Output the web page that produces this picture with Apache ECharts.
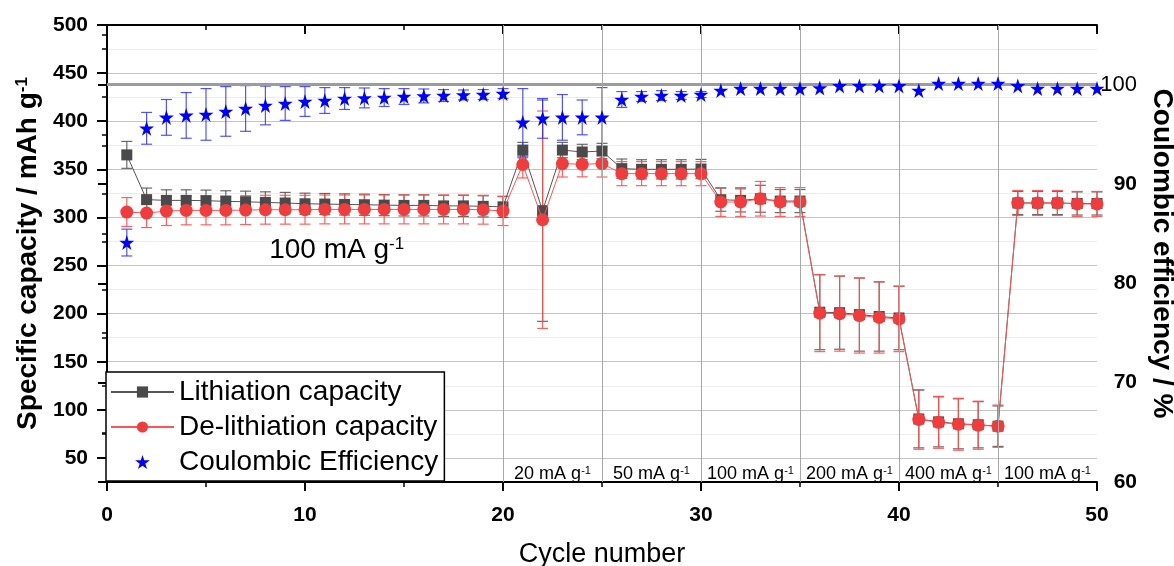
<!DOCTYPE html>
<html><head><meta charset="utf-8">
<script src="https://cdn.jsdelivr.net/npm/echarts@6/dist/echarts.min.js"></script>
<style>html,body{margin:0;padding:0;background:#fff}#c{width:1174px;height:566px}</style>
</head><body><div id="c"></div>
<script>
const cycles = [1,2,3,4,5,6,7,8,9,10,11,12,13,14,15,16,17,18,19,20,21,22,23,24,25,26,27,28,29,30,31,32,33,34,35,36,37,38,39,40,41,42,43,44,45,46,47,48,49,50];
const lithiation = [365,318.5,317.7,317.7,317.4,316.7,316.3,315.6,315,314.2,313.9,313.5,313.2,312.8,312.5,312.5,312,312,311.5,311,370,307,370,368,369,350.7,350,350,350,350.3,318.4,317.7,319.4,317,317,201.5,201,199,197,195.5,90.5,87.5,85.5,84.5,83,315,315,315,314.5,314.5];
const lithiationErr = [14,12,11,11,11,11,11,11,11,11,11,11,11,11,11,11,11,11,11,11,8,115,8,8,8,10,10,10,10,10,12,12,14,12,12,39,38,38,36,33,30,26,26,24,21,12,12,12,12,12];
const delithiation = [305.6,304.5,306.6,307.3,307.3,307.3,307.6,308,308,308,308.3,308.3,308.3,308.3,308.3,308.3,308.3,308.3,308,306.6,355,297.6,356,355.2,356,345.5,345.5,345.5,345.5,345.5,316,316,319.4,316,316,200.5,200,198,196,194.5,90,87,85,84,83,315,315,315,314,314];
const delithiationErr = [15,15,15,15,15,15,15,15,15,15,15,15,15,15,15,15,15,15,15,15,14,113,14,13,14,12.5,12.5,12.5,12.5,12.5,15,15,18,15,15,40,39,39,37,34,31,27,27,25,22,13,13,13,13,13];
const coulombicEff = [84.1,95.6,96.7,96.9,97.0,97.3,97.6,97.9,98.1,98.3,98.4,98.6,98.66,98.7,98.8,98.86,98.9,98.96,99.0,99.1,96.2,96.6,96.7,96.7,96.7,98.5,98.8,98.9,98.9,99.0,99.4,99.6,99.6,99.6,99.6,99.66,99.87,99.87,99.87,99.87,99.4,100.1,100.1,100.1,100.1,99.87,99.6,99.6,99.6,99.6];
const coulombicErr = [1.35,1.6,1.8,2.3,2.6,2.5,2.3,1.95,1.7,1.5,1.3,1.1,1.0,0.9,0.8,0.7,0.6,0.5,0.5,0.5,3.4,2,2.3,1.75,3,0.8,0.5,0.5,0.4,0.3,0,0,0,0,0,0,0,0,0,0,0,0,0,0,0,0,0,0,0,0];
const leftTickLabels = [50,100,150,200,250,300,350,400,450,500];
const rightTickLabels = [60,70,80,90,100];
const xTickLabels = [0,10,20,30,40,50];
const rateBoundaries = [20,25,30,35,40,45];
const rateLabels = ['20','50','100','200','400','100'];
const rateLabelCycles = [22.5,27.5,32.5,37.5,42.5,47.5];
const rateLabelLevel = 33;
const mainRateLabel = '100';
const mainRateCycle = 11.6;
const mainRateLevel = 266;
const ceReference = 100;

const FF = '"Liberation Sans", Arial, sans-serif';
const chart = echarts.init(document.getElementById('c'), null, {renderer:'canvas'});
const STAR = 'path://M50,0L61.2,34.5L97.6,34.5L68.2,55.9L79.4,90.5L50,69.1L20.6,90.5L31.8,55.9L2.4,34.5L38.8,34.5Z';

function errSeries(name, yIdx, vals, errs, color, z) {
  return {
    type:'custom', name:name, yAxisIndex:yIdx, xAxisIndex:0, z:z, silent:true, animation:false,
    data: cycles.map((c,i)=>[c, vals[i]-errs[i], vals[i]+errs[i], errs[i]]),
    encode:{x:0, y:[1,2]},
    renderItem(params, api){
      if (api.value(3) <= 0) return null;
      const lo = api.coord([api.value(0), api.value(1)]);
      const hi = api.coord([api.value(0), api.value(2)]);
      const hw = 5.5;
      const st = {stroke:color, lineWidth:1.2};
      return {type:'group', children:[
        {type:'line', shape:{x1:hi[0],y1:hi[1],x2:lo[0],y2:lo[1]}, style:st},
        {type:'line', shape:{x1:hi[0]-hw,y1:hi[1],x2:hi[0]+hw,y2:hi[1]}, style:st},
        {type:'line', shape:{x1:lo[0]-hw,y1:lo[1],x2:lo[0]+hw,y2:lo[1]}, style:st}
      ]};
    }
  };
}

const option = {
  animation:false,
  textStyle:{fontFamily:FF},
  grid:{left:107, right:77, top:25, bottom:84, containLabel:false, outerBoundsMode:'none'},
  legend:{
    orient:'vertical', left:106, top:372, itemWidth:63, itemHeight:14, itemGap:7,
    padding:[6,6,5,4], borderColor:'#000', borderWidth:1.5, backgroundColor:'#fff',
    textStyle:{fontSize:28, fontFamily:FF, color:'#000'}, z:20,
    data:['Lithiation capacity','De-lithiation capacity','Coulombic Efficiency']
  },
  xAxis:[
    {type:'value', position:'bottom', min:0, max:50, interval:10,
     name:'Cycle number', nameLocation:'middle', nameGap:59,
     nameTextStyle:{fontSize:27, color:'#000', fontFamily:FF},
     axisLine:{lineStyle:{color:'#000', width:2}},
     axisTick:{length:9, lineStyle:{color:'#000', width:2}},
     minorTick:{show:true, splitNumber:2, length:5, lineStyle:{color:'#000', width:1.5}},
     axisLabel:{fontSize:21, fontWeight:'bold', color:'#000', margin:23,
       formatter:v=> xTickLabels.indexOf(v)>=0 ? String(v) : ''},
     splitLine:{show:false}},
    {type:'value', position:'top', min:0, max:50, interval:10,
     axisLine:{lineStyle:{color:'#000', width:2}},
     axisTick:{inside:true, length:9, lineStyle:{color:'#000', width:2}},
     minorTick:{show:true, splitNumber:2, length:5, lineStyle:{color:'#000', width:1.5}},
     axisLabel:{show:false}, splitLine:{show:false}}
  ],
  yAxis:[
    {type:'value', position:'left', min:25, max:500, interval:25,
     name:'{a|Specific capacity / mAh g}{s|-1}', nameLocation:'middle', nameGap:62, nameRotate:90,
     nameTextStyle:{color:'#000', rich:{a:{fontSize:28, fontWeight:'bold', fontFamily:FF, color:'#000'}, s:{fontSize:17, fontWeight:'bold', fontFamily:FF, color:'#000', verticalAlign:'top'}}},
     axisLine:{show:true, lineStyle:{color:'#000', width:2}},
     axisTick:{length:5, lineStyle:{color:'#000', width:1.5}},
     axisLabel:{fontSize:21, fontWeight:'bold', color:'#000', margin:19,
       formatter:v=> leftTickLabels.indexOf(v)>=0 ? String(v) : ''},
     splitLine:{show:true, lineStyle:{color:['#ececec','#c4c4c4'], width:1}}},
    {type:'value', position:'right', min:60, max:106, interval:10,
     name:'Coulombic efficiency / %', nameLocation:'middle', nameGap:46, nameRotate:-90,
     nameTextStyle:{fontSize:28, fontWeight:'bold', color:'#000', fontFamily:FF},
     axisLine:{show:true, lineStyle:{color:'#000', width:2}},
     axisTick:{inside:true, length:9, lineStyle:{color:'#000', width:2}},
     minorTick:{show:true, splitNumber:2, length:5, lineStyle:{color:'#000', width:1.5}},
     axisLabel:{margin:40, align:'right', color:'#000',
       formatter:v=> rightTickLabels.indexOf(v)<0 ? '' : (v===100 ? '{r|'+v+'}' : '{b|'+v+'}'),
       rich:{r:{fontSize:22, fontFamily:FF, color:'#000'}, b:{fontSize:21, fontWeight:'bold', fontFamily:FF, color:'#000'}}},
     splitLine:{show:false}},
    {type:'value', position:'left', min:25, max:500,
     axisLine:{show:false},
     axisTick:{show:true, length:10, customValues:leftTickLabels, lineStyle:{color:'#000', width:2}},
     axisLabel:{show:false}, splitLine:{show:false}}
  ],
  series:[
    {type:'line', name:'ref', yAxisIndex:1, data:[], z:1, silent:true,
     markLine:{silent:true, symbol:'none', label:{show:false}, animation:false,
       data:[{yAxis:ceReference, lineStyle:{color:'#9c9c9c', width:3, type:'solid'}}]}},
    {type:'line', name:'bounds', yAxisIndex:0, data:[], z:1, silent:true,
     markLine:{silent:true, symbol:'none', label:{show:false}, animation:false,
       lineStyle:{color:'#a8a8a8', width:1, type:'solid'},
       data:rateBoundaries.map(b=>({xAxis:b}))}},
    errSeries('lithErr',0,lithiation,lithiationErr,'rgba(80,80,80,0.85)',2),
    errSeries('delithErr',0,delithiation,delithiationErr,'rgba(255,80,80,0.9)',2),
    errSeries('ceErr',1,coulombicEff,coulombicErr,'rgba(40,40,255,0.8)',2),
    {type:'line', name:'Lithiation capacity', yAxisIndex:0, z:3,
     data:cycles.map((c,i)=>[c,lithiation[i]]),
     symbol:'rect', symbolSize:11, showAllSymbol:true,
     itemStyle:{color:'#4a4a4a'}, lineStyle:{color:'#555', width:1}},
    {type:'line', name:'De-lithiation capacity', yAxisIndex:0, z:4,
     data:cycles.map((c,i)=>[c,delithiation[i]]),
     symbol:'circle', symbolSize:13, showAllSymbol:true,
     itemStyle:{color:'#f03c3c'}, lineStyle:{color:'#ff5555', width:1}},
    {type:'scatter', name:'Coulombic Efficiency', yAxisIndex:1, z:5,
     data:cycles.map((c,i)=>[c,coulombicEff[i]]),
     symbol:STAR, symbolSize:15, itemStyle:{color:'#0000ff', opacity:1}},
    {type:'scatter', name:'rateText', yAxisIndex:0, z:6, silent:true, symbolSize:0,
     itemStyle:{opacity:1},
     data:rateLabelCycles.map((c,i)=>({value:[c,rateLabelLevel], label:{formatter:'{a|'+rateLabels[i]+' mA g}{s|-1}'}})),
     label:{show:true, position:'inside', color:'#000', opacity:1,
       rich:{a:{fontSize:18, fontFamily:FF, color:'#000'}, s:{fontSize:11, fontFamily:FF, color:'#000', verticalAlign:'top'}}}},
    {type:'scatter', name:'mainText', yAxisIndex:0, z:6, silent:true, symbolSize:0,
     itemStyle:{opacity:1},
     data:[{value:[mainRateCycle, mainRateLevel], label:{formatter:'{a|'+mainRateLabel+' mA g}{s|-1}'}}],
     label:{show:true, position:'inside', color:'#000', opacity:1,
       rich:{a:{fontSize:28, fontFamily:FF, color:'#000'}, s:{fontSize:17, fontFamily:FF, color:'#000', verticalAlign:'top'}}}}
  ]
};
chart.setOption(option);
</script></body></html>
